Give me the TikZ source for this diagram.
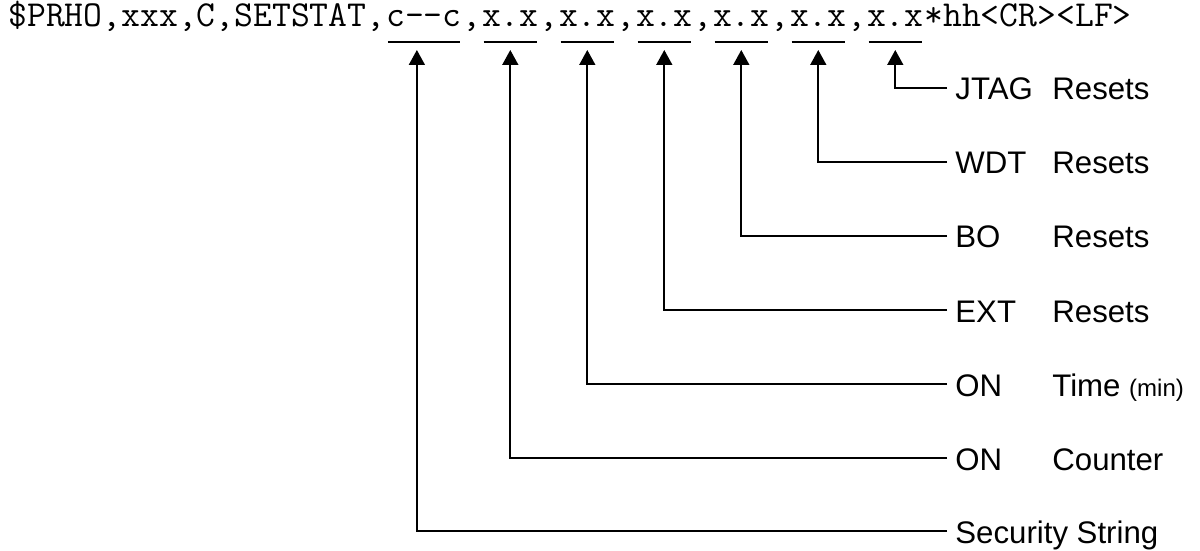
\documentclass[tikz,border=0pt]{standalone}
\usepackage{fontspec}
\setsansfont{Liberation Sans}
\setmonofont{Latin Modern Mono}
\usetikzlibrary{arrows.meta}
\tikzset{
  field/.style={anchor=base west, inner sep=0pt, font=\ttfamily\fontsize{18.3}{21}\selectfont},
  desc/.style={anchor=west, inner xsep=4pt, inner ysep=0pt, text height=12pt, text depth=0pt,
    font=\sffamily\fontsize{15.6}{18}\selectfont},
  arr/.style={-{Triangle[length=7.5pt, width=8pt]}, line width=0.85pt},
  uline/.style={line width=0.85pt},
}
\newcommand{\twoword}[2]{\makebox[48.5pt][l]{#1}#2}

\begin{document}
\begin{tikzpicture}[x=0.5pt, y=-0.5pt]
  \useasboundingbox (0,0) rectangle (1200,551);

  % Sentence
  \node[field] (pre) at (8,27) {\$PRHO,xxx,C,SETSTAT,};
  \node[field] (sec) at (pre.base east) {c--c};
  \node[field] (c1) at (sec.base east) {,};
  \node[field] (cnt) at (c1.base east) {x.x};
  \node[field] (c2) at (cnt.base east) {,};
  \node[field] (tim) at (c2.base east) {x.x};
  \node[field] (c3) at (tim.base east) {,};
  \node[field] (ext) at (c3.base east) {x.x};
  \node[field] (c4) at (ext.base east) {,};
  \node[field] (bo) at (c4.base east) {x.x};
  \node[field] (c5) at (bo.base east) {,};
  \node[field] (wdt) at (c5.base east) {x.x};
  \node[field] (c6) at (wdt.base east) {,};
  \node[field] (jtag) at (c6.base east) {x.x};
  \node[field] (tail) at (jtag.base east) {*hh<CR><LF>};

  % Underlines
  \foreach \f in {sec, cnt, tim, ext, bo, wdt, jtag}
    \draw[uline] ([xshift=1pt, yshift=-7.5pt]\f.base west) -- ([xshift=-1pt, yshift=-7.5pt]\f.base east);

  % Labels
  \node[desc] (ljtag) at (947,88) {\twoword{JTAG}{Resets}};
  \node[desc] (lwdt) at (947,162) {\twoword{WDT}{Resets}};
  \node[desc] (lbo) at (947,236) {\twoword{BO}{Resets}};
  \node[desc] (lext) at (947,310) {\twoword{EXT}{Resets}};
  \node[desc] (ltim) at (947,384) {\twoword{ON}{Time {\fontsize{12}{14}\selectfont(min)}}};
  \node[desc] (lcnt) at (947,458) {\twoword{ON}{Counter}};
  \node[desc] (lsec) at (947,531) {Security String};

  % Arrows
  \draw[arr] (ljtag.west) -| ([yshift=-11.5pt]jtag.base);
  \draw[arr] (lwdt.west) -| ([yshift=-11.5pt]wdt.base);
  \draw[arr] (lbo.west) -| ([yshift=-11.5pt]bo.base);
  \draw[arr] (lext.west) -| ([yshift=-11.5pt]ext.base);
  \draw[arr] (ltim.west) -| ([yshift=-11.5pt]tim.base);
  \draw[arr] (lcnt.west) -| ([yshift=-11.5pt]cnt.base);
  \draw[arr] (lsec.west) -| ([xshift=-3.5pt, yshift=-11.5pt]sec.base);
\end{tikzpicture}
\end{document}
